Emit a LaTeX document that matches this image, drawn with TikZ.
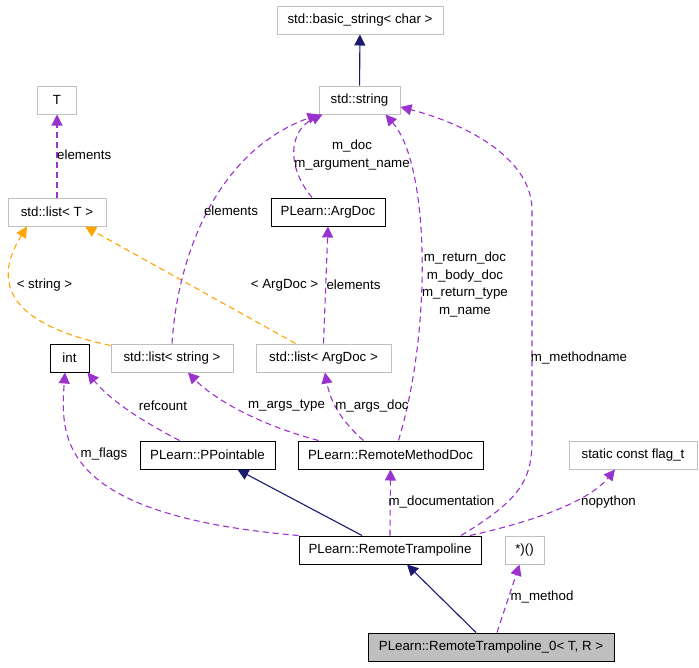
\documentclass[tikz,border=0pt]{standalone}
\usepackage{fontspec}
\setmainfont{Liberation Sans}
\usetikzlibrary{arrows.meta}
\definecolor{usecol}{HTML}{9A32CD}
\definecolor{inhcol}{HTML}{191970}
\definecolor{tplcol}{HTML}{FFA500}
\definecolor{extcol}{HTML}{BFBFBF}
\tikzset{
	cls/.style={draw=black, line width=1pt, minimum height=28pt, inner xsep=2pt, font=\fontsize{13.3}{17}\selectfont},
	ext/.style={cls, draw=extcol},
	lbl/.style={inner sep=0pt, align=center, font=\fontsize{13.3}{17.5}\selectfont},
	tip/.style={-{Triangle[length=11pt,width=11pt]}},
	use/.style={tip, usecol, line width=1.1pt, dash pattern=on 6pt off 4pt},
	tpl/.style={tip, tplcol, line width=1.1pt, dash pattern=on 6pt off 4pt},
	inh/.style={tip, inhcol, line width=1.1pt}
}
\begin{document}
\begin{tikzpicture}[x=1pt,y=-1pt]
	\useasboundingbox (0,0) rectangle (699,667);
	% classes
	\node[ext, minimum width=166pt] (bstring) at (360,20) {std::basic\_string< char >};
	\node[ext, minimum width=81pt] (string) at (359.5,100) {std::string};
	\node[ext, minimum width=39pt] (T) at (57,100) {T};
	\node[ext, minimum width=98pt] (listT) at (57,212) {std::list< T >};
	\node[cls, minimum width=114pt] (argdoc) at (328,212) {PLearn::ArgDoc};
	\node[cls, minimum width=39pt] (int) at (69.5,358) {int};
	\node[ext, minimum width=122pt] (liststring) at (172,358) {std::list< string >};
	\node[ext, minimum width=135pt] (listargdoc) at (323.5,358) {std::list< ArgDoc >};
	\node[cls, minimum width=135pt] (ppointable) at (207.5,455) {PLearn::PPointable};
	\node[cls, minimum width=185pt] (rmdoc) at (390.5,455) {PLearn::RemoteMethodDoc};
	\node[ext, minimum width=128pt] (flag) at (633,455) {static const flag\_t};
	\node[cls, minimum width=182pt] (rt) at (390,550) {PLearn::RemoteTrampoline};
	\node[ext, minimum width=39pt] (fptr) at (524.5,550) {*)()};
	\node[cls, fill=extcol, minimum width=246pt] (rt0) at (491,647) {PLearn::RemoteTrampoline\_0< T, R >};
	% inheritance
	\draw[inh] (string) -- (bstring);
	\draw[inh] ([xshift=-28pt]rt.north) -- ([xshift=30pt]ppointable.south);
	\draw[inh] ([xshift=-15pt]rt0.north) -- ([xshift=17pt]rt.south);
	% templates
	\draw[tpl] ([yshift=-2pt]liststring.north west) .. controls (-10,320) and (0,270) .. ([xshift=-30pt]listT.south);
	\draw[tpl] ([xshift=-28pt]listargdoc.north) -- ([xshift=28pt]listT.south);
	% members
	\draw[use] (listT) -- (T);
	\draw[use] (liststring.north) .. controls (178,250) and (220,150) .. (string.south west);
	\draw[use] ([xshift=-16pt]argdoc.north) .. controls (285,165) and (290,130) .. ([xshift=-37pt]string.south);
	\draw[use] ([xshift=8pt]rmdoc.north) .. controls (432,330) and (430,165) .. ([xshift=26pt]string.south);
	\draw[use] ([xshift=71pt]rt.north) .. controls (520,500) and (532,480) .. (532,440) -- (532,210) .. controls (532,160) and (470,125) .. ([yshift=-7pt]string.east);
	\draw[use] (listargdoc.north) -- (argdoc.south);
	\draw[use] ([xshift=-28pt]ppointable.north) .. controls (140,420) and (110,400) .. ([xshift=-2pt]int.south east);
	\draw[use] ([xshift=-72pt]rmdoc.north) .. controls (260,425) and (215,400) .. ([xshift=16pt]liststring.south);
	\draw[use] ([xshift=-27pt]rmdoc.north) .. controls (340,420) and (330,400) .. ([xshift=1.5pt]listargdoc.south);
	\draw[use] (rt.north west) .. controls (60,515) and (60,440) .. ([xshift=-4.5pt]int.south);
	\draw[use] (rt.north) -- (rmdoc.south);
	\draw[use] ([xshift=80pt]rt.north) .. controls (540,520) and (590,500) .. ([xshift=-18pt]flag.south);
	\draw[use] ([xshift=6pt]rt0.north) -- ([xshift=-5pt]fptr.south);
	% labels
	\node[lbl, anchor=west] (lelemT) at (57,155) {elements};
	\node[lbl] (lelemstr) at (231,211) {elements};
	\node[lbl] (ldoc) at (352,155) {m\_doc\\m\_argument\_name};
	\node[lbl] (lstring) at (44.5,285) {< string >};
	\node[lbl] (largdoc) at (284.5,285) {< ArgDoc >};
	\node[lbl] (lelemarg) at (353.5,285) {elements};
	\node[lbl] (lreturn) at (465,284.5) {m\_return\_doc\\m\_body\_doc\\m\_return\_type\\m\_name};
	\node[lbl] (lmethodname) at (579,358) {m\_methodname};
	\node[lbl] (lrefcount) at (163,406) {refcount};
	\node[lbl] (largstype) at (286.5,406) {m\_args\_type};
	\node[lbl] (largsdoc) at (372,406) {m\_args\_doc};
	\node[lbl] (lflags) at (104,454) {m\_flags};
	\node[lbl] (ldocumentation) at (441.5,502) {m\_documentation};
	\node[lbl] (lnopython) at (608.5,502) {nopython};
	\node[lbl] (lmethod) at (542,597) {m\_method};
\end{tikzpicture}
\end{document}
